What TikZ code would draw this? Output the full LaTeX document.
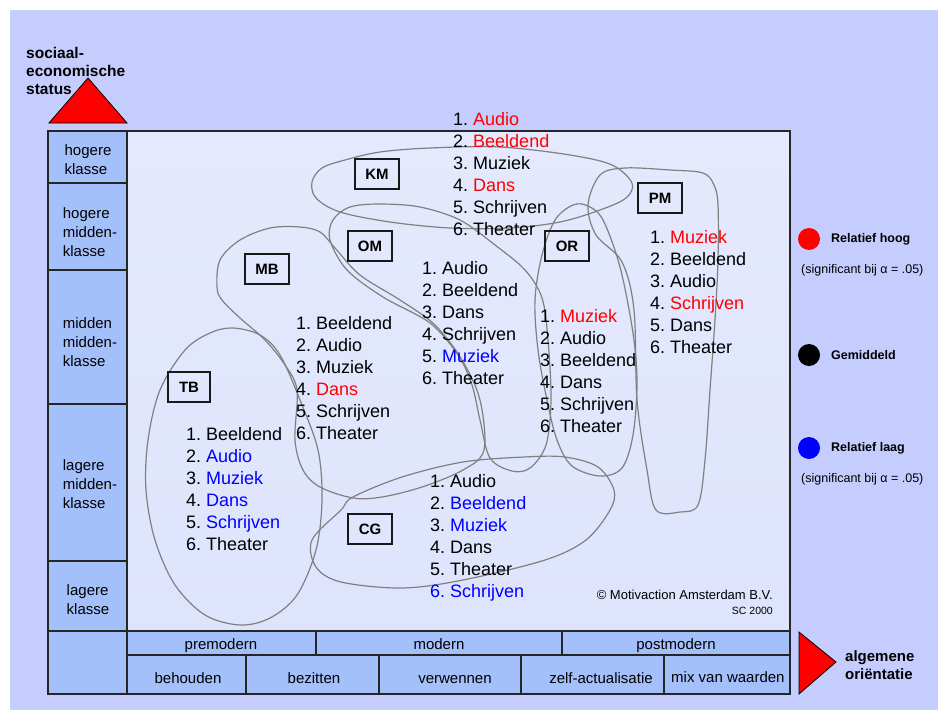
\documentclass[tikz,border=0pt]{standalone}
\usepackage{fontspec}
\setmainfont{Liberation Sans}
\frenchspacing
\definecolor{bgc}{RGB}{196,205,254}
\definecolor{cellc}{RGB}{163,192,250}
\definecolor{ptop}{RGB}{228,233,253}
\definecolor{pmid}{RGB}{170,188,249}
\definecolor{pbot}{RGB}{222,228,252}
\definecolor{loopc}{RGB}{128,128,128}
\definecolor{hic}{RGB}{255,0,0}
\definecolor{loc}{RGB}{0,0,255}
\newcommand\Hi[1]{\textcolor{hic}{#1}}
\newcommand\Lo[1]{\textcolor{loc}{#1}}
\newcommand\itemlist[4]{\foreach \t [count=\i] in {#4} {\node[lst] (#1\i) at (#2,{#3+22*(\i-1)}) {\t};}}
\begin{document}
\begin{tikzpicture}[x=1pt,y=-1pt,
 lst/.style={anchor=west, inner sep=0pt, text height=13pt, text depth=0pt, font=\fontsize{18}{22}\selectfont},
 gbox/.style={draw=black!90, line width=1.3pt, minimum width=44pt, minimum height=30pt, inner sep=0pt, font=\bfseries\fontsize{15}{18}\selectfont},
 lbl/.style={align=left, inner sep=0pt, font=\fontsize{15}{19}\selectfont},
 clbl/.style={anchor=base, inner sep=0pt, font=\fontsize{15}{18}\selectfont},
 blob/.style={draw=loopc, line width=1.2pt},
 frm/.style={draw=black!85, line width=1.6pt},
 legtxt/.style={anchor=west, inner sep=0pt, font=\bfseries\fontsize{12.5}{15}\selectfont},
 sigtxt/.style={anchor=west, inner sep=0pt, font=\fontsize{12.5}{15}\selectfont},
 dot/.style={circle, inner sep=0pt, minimum size=22pt},
 ax/.style={align=left, inner sep=0pt, font=\bfseries\fontsize{15}{18}\selectfont}]
\useasboundingbox (0,0) rectangle (938,710);
\fill[white] (0,0) rectangle (938,710);
\fill[bgc] (10,10) rectangle (938,710);
% plot area
\shade[top color=ptop, middle color=pmid, bottom color=pbot] (127,131) rectangle (790,631);
% cells
\fill[cellc] (48,131) rectangle (127,631);
\fill[cellc] (48,631) rectangle (790,694);
% loops
\draw[blob] plot[smooth cycle, tension=0.55] coordinates {(312,182) (322,168) (345,160) (380,152) (430,148) (500,147) (570,155) (612,165) (632,183) (626,198) (600,210) (560,222) (510,228) (450,228) (390,222) (340,212) (316,198)};
\draw[blob] plot[smooth cycle, tension=0.55] coordinates {(330,240) (333,220) (350,207) (380,204) (420,207) (460,220) (495,245) (525,270) (542,298) (548,340) (551,400) (546,445) (530,468) (512,471) (490,458) (480,420) (472,385) (458,355) (430,323) (383,297) (347,270)};
\draw[blob] plot[smooth cycle, tension=0.55] coordinates {(573,205) (555,220) (542,255) (535,300) (538,350) (547,400) (557,440) (572,466) (600,476) (622,468) (633,435) (637,383) (633,333) (620,267) (603,220) (588,206)};
\draw[blob] plot[smooth cycle, tension=0.55] coordinates {(600,175) (625,168) (670,170) (703,173) (714,185) (718,205) (718,260) (715,320) (710,390) (705,460) (698,505) (680,512) (656,510) (647,470) (637,400) (634,310) (622,262) (596,235) (588,205)};
\draw[blob] plot[smooth cycle, tension=0.55] coordinates {(217,287) (220,260) (240,240) (270,228) (300,227) (320,232) (335,248) (360,275) (400,300) (435,325) (462,360) (480,400) (484,450) (463,470) (422,487) (382,497) (353,498) (320,487) (303,470) (295,440) (297,390) (285,365) (265,340) (240,318) (222,300)};
\draw[blob] plot[smooth cycle, tension=0.55] coordinates {(233,328) (260,335) (280,355) (300,400) (318,450) (322,500) (316,550) (297,595) (270,618) (240,625) (205,615) (175,585) (155,540) (146,490) (148,440) (160,390) (185,350) (210,333)};
\draw[blob] plot[smooth cycle, tension=0.55] coordinates {(341,510) (353,497) (402,477) (463,462) (524,457) (565,457) (598,467) (614,490) (610,510) (586,540) (545,560) (463,580) (402,588) (341,582) (316,567) (312,540)};
% group boxes
\node[gbox] (KM) at (377,174) {KM};
\node[gbox] (OM) at (370,246) {OM};
\node[gbox] (OR) at (567,246) {OR};
\node[gbox] (PM) at (660,198) {PM};
\node[gbox] (MB) at (267,269) {MB};
\node[gbox, minimum width=42pt] (TB) at (189,387) {TB};
\node[gbox] (CG) at (370,529) {CG};
% lists
\itemlist{km}{453}{119}{1. \Hi{Audio}, 2. \Hi{Beeldend}, 3. Muziek, 4. \Hi{Dans}, 5. Schrijven, 6. Theater}
\itemlist{om}{422}{268}{1. Audio, 2. Beeldend, 3. Dans, 4. Schrijven, 5. \Lo{Muziek}, 6. Theater}
\itemlist{or}{540}{316}{1. \Hi{Muziek}, 2. Audio, 3. Beeldend, 4. Dans, 5. Schrijven, 6. Theater}
\itemlist{pm}{650}{237}{1. \Hi{Muziek}, 2. Beeldend, 3. Audio, 4. \Hi{Schrijven}, 5. Dans, 6. Theater}
\itemlist{mb}{296}{323}{1. Beeldend, 2. Audio, 3. Muziek, 4. \Hi{Dans}, 5. Schrijven, 6. Theater}
\itemlist{tb}{186}{434}{1. Beeldend, 2. \Lo{Audio}, 3. \Lo{Muziek}, 4. \Lo{Dans}, 5. \Lo{Schrijven}, 6. Theater}
\itemlist{cg}{430}{481}{1. Audio, 2. \Lo{Beeldend}, 3. \Lo{Muziek}, 4. Dans, 5. Theater, \Lo{6. Schrijven}}
% copyright
\node[anchor=east, inner sep=0pt, font=\fontsize{13}{15}\selectfont] (copy) at (773,595) {© Motivaction Amsterdam B.V.};
\node[anchor=east, inner sep=0pt, font=\fontsize{10.5}{12}\selectfont] (sc) at (773,611) {SC 2000};
% frame
\draw[frm] (48,131) rectangle (790,694);
\draw[frm] (127,131) -- (127,694);
\draw[frm] (48,183) -- (127,183);
\draw[frm] (48,270) -- (127,270);
\draw[frm] (48,404) -- (127,404);
\draw[frm] (48,561) -- (127,561);
\draw[frm] (48,631) -- (790,631);
\draw[frm] (127,655) -- (790,655);
\draw[frm] (316,631) -- (316,655);
\draw[frm] (562,631) -- (562,655);
\draw[frm] (246,655) -- (246,694);
\draw[frm] (379,655) -- (379,694);
\draw[frm] (521,655) -- (521,694);
\draw[frm] (664,655) -- (664,694);
% left labels
\node[lbl] (r1) at (88,160) {hogere\\klasse};
\node[lbl] (r2) at (90,232) {hogere\\midden-\\klasse};
\node[lbl] (r3) at (90,342) {midden\\midden-\\klasse};
\node[lbl] (r4) at (90,484) {lagere\\midden-\\klasse};
\node[lbl] (r5) at (88,600) {lagere\\klasse};
% bottom labels
\node[clbl] (b1) at (221,649) {premodern};
\node[clbl] (b2) at (439,649) {modern};
\node[clbl] (b3) at (676,649) {postmodern};
\node[clbl] (b4) at (188,683) {behouden};
\node[clbl] (b5) at (314,683) {bezitten};
\node[clbl] (b6) at (455,683) {verwennen};
\node[clbl] (b7) at (601,683) {zelf-actualisatie};
\node[clbl, anchor=base west] (b8) at (671,682) {mix van waarden};
% axes
\draw[fill=red, draw=black, line width=0.8pt] (49,123) -- (127,123) -- (88,78) -- cycle;
\node[ax, anchor=west, font=\bfseries\fontsize{15.5}{18}\selectfont] (yax) at (26,71) {sociaal-\\economische\\status};
\draw[fill=red, draw=black, line width=0.8pt] (799,632) -- (799,694) -- (836,662) -- cycle;
\node[ax, anchor=west] (xax) at (845,665) {algemene\\oriëntatie};
% legend
\node[dot, fill=red] (dh) at (809,239) {};
\node[legtxt] (th) at (831,239) {Relatief hoog};
\node[sigtxt] (sh) at (801,270) {(significant bij α = .05)};
\node[dot, fill=black] (dm) at (809,355) {};
\node[legtxt] (tm) at (831,355) {Gemiddeld};
\node[dot, fill=blue] (dl) at (809,448) {};
\node[legtxt] (tl) at (831,448) {Relatief laag};
\node[sigtxt] (sl) at (801,479) {(significant bij α = .05)};
\end{tikzpicture}
\end{document}
